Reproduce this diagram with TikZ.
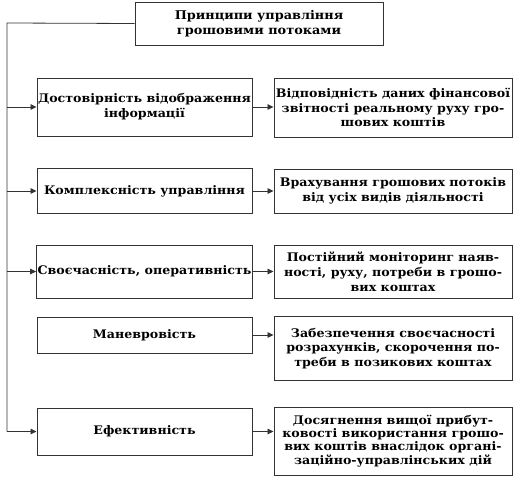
\documentclass[tikz,border=0pt]{standalone}
\usepackage{fontspec}
\setmainfont{DejaVu Serif}[FakeStretch=1.07]
\usetikzlibrary{arrows.meta}
\begin{document}
\begin{tikzpicture}[x=1pt,y=-1pt,
  box/.style={draw=black!80,line width=0.95pt,rectangle,align=center,inner sep=1pt,
    font=\fontsize{11.8}{14.8}\selectfont\bfseries},
  lbox/.style={box,minimum width=215pt},
  rbox/.style={box,minimum width=238pt},
  conn/.style={draw=black!80,line width=0.8pt,-{Triangle[length=6pt,width=5.5pt]}},
  spine/.style={draw=black!80,line width=0.8pt}]
\useasboundingbox (0,0) rectangle (518,484);
\node[box,minimum width=248pt,minimum height=43pt,font=\fontsize{12}{15}\selectfont\bfseries] (top) at (259,23.5) {Принципи управління\\грошовими потоками};
\node[lbox,minimum height=58pt] (L1) at (144.5,107) {Достовірність відображення\\інформації};
\node[lbox,minimum height=45pt] (L2) at (144.5,191) {Комплексність управління};
\node[lbox,minimum height=53pt] (L3) at (144.5,271.5) {Своєчасність, оперативність};
\node[lbox,minimum height=36pt] (L4) at (144.5,335) {Маневровість};
\node[lbox,minimum height=47pt] (L5) at (144.5,431.5) {Ефективність};
\node[rbox,minimum height=59pt] (R1) at (393,107.5) {Відповідність даних фінансової\\звітності реальному руху гро-\\шових коштів};
\node[rbox,minimum height=44pt] (R2) at (393,191) {Врахування грошових потоків\\від усіх видів діяльності};
\node[rbox,minimum height=53pt] (R3) at (393,271.5) {Постійний моніторинг наяв-\\ності, руху, потреби в грошо-\\вих коштах};
\node[rbox,minimum height=64pt] (R4) at (393,348.5) {Забезпечення своєчасності\\розрахунків, скорочення по-\\треби в позикових коштах};
\node[rbox,minimum height=68pt,font=\fontsize{11.8}{13.2}\selectfont\bfseries] (R5) at (393,441) {Досягнення вищої прибут-\\ковості використання грошо-\\вих коштів внаслідок органі-\\заційно-управлінських дій};
\coordinate (sp) at (7,23);
\draw[spine] (top.west) -- (sp) -- (sp |- L5.west);
\draw[conn] (sp |- L5.west) -- (L5.west);
\draw[conn] (sp |- L1.west) -- (L1.west);
\draw[conn] (sp |- L2.west) -- (L2.west);
\draw[conn] (sp |- L3.west) -- (L3.west);
\draw[conn] (L1.east) -- (L1.east -| R1.west);
\draw[conn] (L2.east) -- (L2.east -| R2.west);
\draw[conn] (L3.east) -- (L3.east -| R3.west);
\draw[conn] (L4.east) -- (L4.east -| R4.west);
\draw[conn] (L5.east) -- (L5.east -| R5.west);
\end{tikzpicture}
\end{document}
